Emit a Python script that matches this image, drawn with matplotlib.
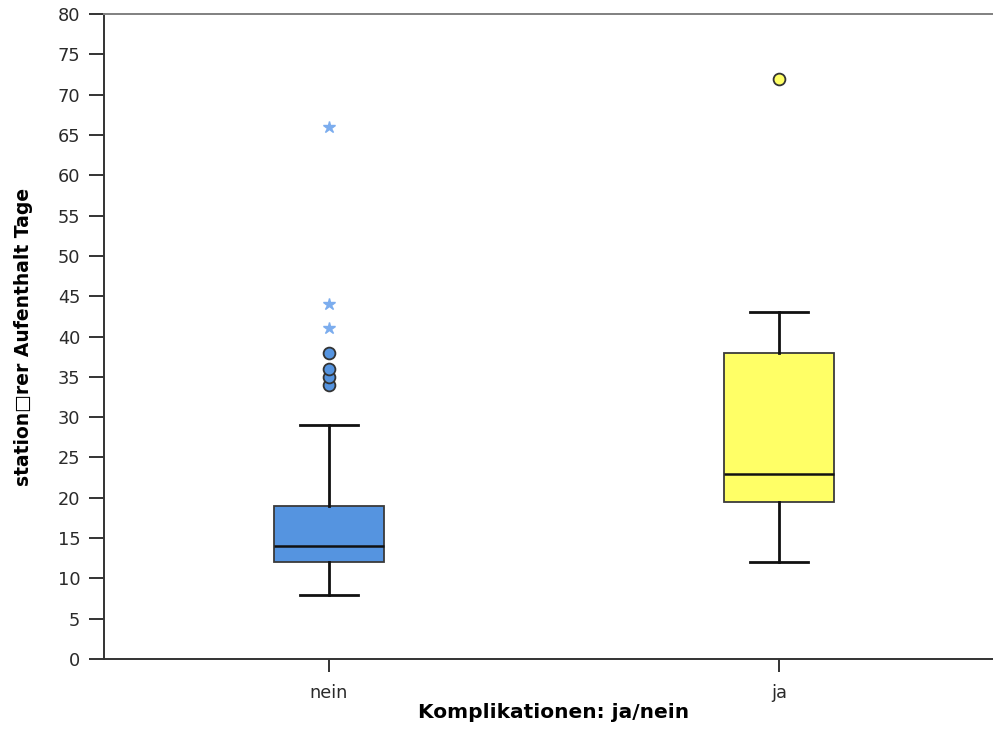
import matplotlib.pyplot as plt

groups = ["nein", "ja"]
q1 = [12, 19.5]
median = [14, 23]
q3 = [19, 38]
whisker_low = [8, 12]
whisker_high = [29, 43]
outliers = [[34, 35, 36, 38], [72]]
extremes = [[41, 44, 66], []]
fills = ["#5594e0", "#ffff66"]
star_color = "#7cadee"

fig = plt.figure(figsize=(9.93, 7.53), dpi=100)
ax = fig.add_axes([104 / 993, 94 / 753, 900 / 993, 645 / 753])

stats = []
for i, name in enumerate(groups):
    stats.append({"label": name, "q1": q1[i], "med": median[i], "q3": q3[i],
                  "whislo": whisker_low[i], "whishi": whisker_high[i], "fliers": []})

bp = ax.bxp(stats, positions=[0, 1], widths=0.245, capwidths=0.127,
            showfliers=False, patch_artist=True,
            boxprops=dict(edgecolor="#3a3a3a", linewidth=1.3),
            medianprops=dict(color="#111111", linewidth=1.8),
            whiskerprops=dict(color="#111111", linewidth=2),
            capprops=dict(color="#111111", linewidth=2))
for patch, c in zip(bp["boxes"], fills):
    patch.set_facecolor(c)

for i in range(len(groups)):
    ax.plot([i] * len(outliers[i]), outliers[i], "o", ms=8.5,
            mfc=fills[i], mec="#333333", mew=1.3, ls="none")
    if extremes[i]:
        ax.plot([i] * len(extremes[i]), extremes[i], "*", ms=9,
                color=star_color, ls="none")

ax.set_xlim(-0.5, 1.5)
ax.set_ylim(0, 80)
ax.set_yticks(range(0, 81, 5))
ax.set_xticks([0, 1])
ax.set_xticklabels(groups)

ax.spines["right"].set_visible(False)
ax.spines["top"].set_color("#808080")
ax.spines["top"].set_linewidth(1.4)
for s in ["left", "bottom"]:
    ax.spines[s].set_color("#333333")
    ax.spines[s].set_linewidth(1.4)

ax.tick_params(axis="y", length=11, width=1.4, color="#333333", labelsize=12.8, pad=6)
ax.tick_params(axis="x", length=9, width=1.4, color="#333333", labelsize=12.8, pad=9)
for lab in ax.get_xticklabels() + ax.get_yticklabels():
    lab.set_family("DejaVu Sans")
    lab.set_color("#2a2a2a")

ax.set_ylabel("station\u25a1rer Aufenthalt Tage", fontsize=13.5, fontweight="bold",
              family="DejaVu Sans")
ax.set_xlabel("Komplikationen: ja/nein", fontsize=14.5, fontweight="bold",
              family="DejaVu Sans")
ax.yaxis.set_label_coords(-0.079, 0.5)
ax.xaxis.set_label_coords(0.5, -0.068)

fig.savefig("out.png", dpi=100)
